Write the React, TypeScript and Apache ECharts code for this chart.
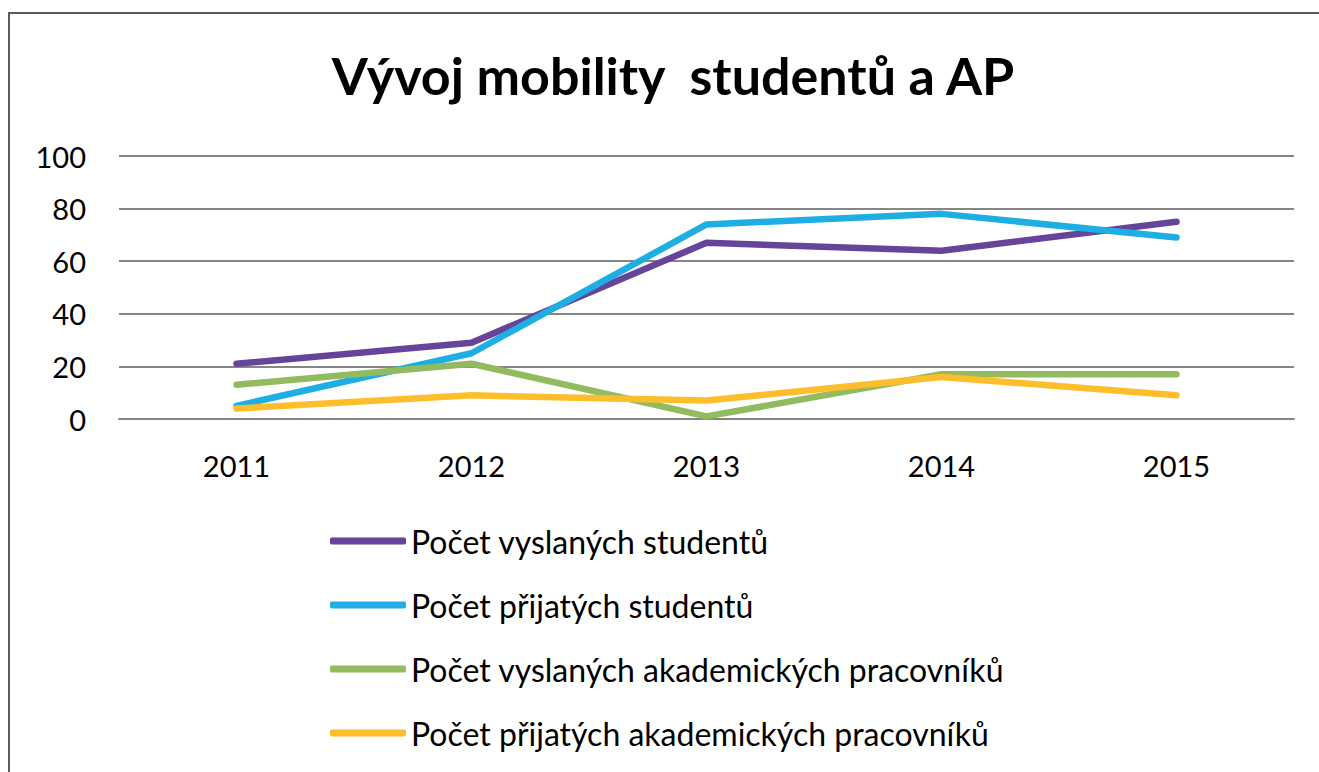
import React, { useEffect, useRef } from "react";
import * as echarts from "echarts";

const years = ["2011", "2012", "2013", "2014", "2015"];
const seriesNames = [
  "Počet vyslaných studentů",
  "Počet přijatých studentů",
  "Počet vyslaných akademických pracovníků",
  "Počet přijatých akademických pracovníků",
];
const sentStudents = [21, 29, 67, 64, 75];
const receivedStudents = [5, 25, 74, 78, 69];
const sentStaff = [13, 21, 1, 17, 17];
const receivedStaff = [4, 9, 7, 16, 9];
const seriesValues = [sentStudents, receivedStudents, sentStaff, receivedStaff];
const seriesColors = ["#664499", "#1FAEE3", "#92BB5F", "#FEBE2B"];

export default function App() {
  const ref = useRef<HTMLDivElement>(null);
  useEffect(() => {
    document.body.style.margin = "0";
    const chart = echarts.init(ref.current!, null, { renderer: "svg" });
    const font = "Lato, 'Open Sans', sans-serif";
    chart.setOption({
      animation: false,
      backgroundColor: "#ffffff",
      title: {
        text: "Vývoj mobility  studentů a AP",
        left: 668,
        textAlign: "center",
        top: 44,
        textStyle: { fontFamily: font, fontWeight: "bold", fontSize: 52, color: "#000" },
      },
      graphic: [
        {
          type: "rect",
          shape: { x: 9, y: 13, width: 1400, height: 900 },
          style: { fill: "none", stroke: "#5a5a5a", lineWidth: 2 },
          silent: true,
        },
      ],
      legend: {
        orient: "vertical",
        left: 325,
        top: 519,
        itemWidth: 76,
        itemHeight: 7,
        itemGap: 30,
        icon: "roundRect",
        textStyle: { fontFamily: font, fontSize: 32, color: "#000", lineHeight: 34 },
        data: seriesNames,
      },
      grid: { left: 119, right: 25, top: 156, bottom: 353 },
      xAxis: {
        type: "category",
        data: years,
        boundaryGap: true,
        axisLine: { show: true, lineStyle: { color: "#868686", width: 2 } },
        axisTick: { show: false },
        axisLabel: { fontFamily: font, fontSize: 29, color: "#000", margin: 32 },
      },
      yAxis: {
        type: "value",
        min: 0,
        max: 100,
        interval: 20,
        axisLine: { show: false },
        axisTick: { show: false },
        splitLine: { lineStyle: { color: "#868686", width: 2 } },
        axisLabel: { fontFamily: font, fontSize: 29, color: "#000", margin: 33 },
      },
      series: seriesNames.map((name, i) => ({
        name,
        type: "line",
        data: seriesValues[i],
        showSymbol: false,
        symbol: "none",
        itemStyle: { color: seriesColors[i] },
        lineStyle: { color: seriesColors[i], width: 6.5, cap: "round", join: "round" },
      })),
    });
    return () => chart.dispose();
  }, []);
  return <div ref={ref} style={{ width: 1319, height: 772 }} />;
}
